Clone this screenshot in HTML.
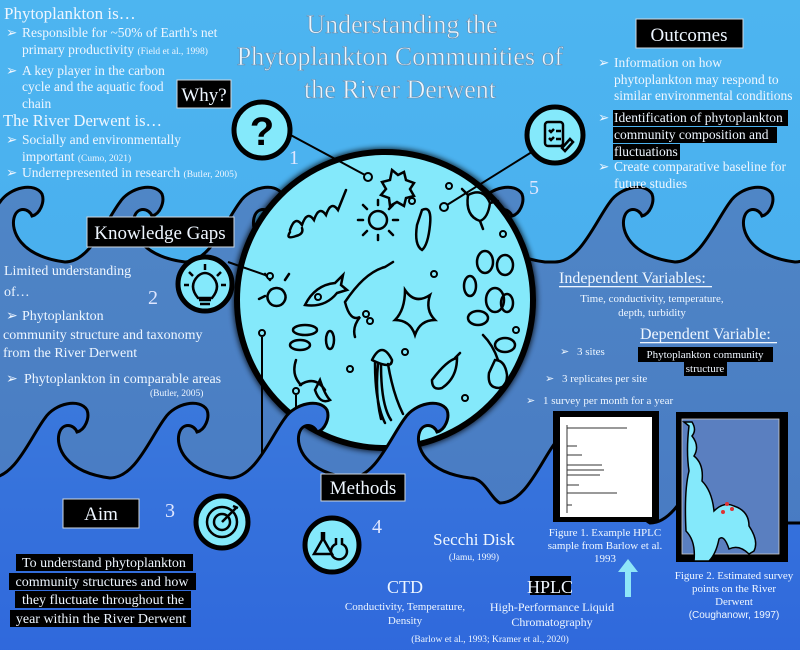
<!DOCTYPE html>
<html><head><meta charset="utf-8"><style>
html,body{margin:0;padding:0;width:800px;height:650px;overflow:hidden;background:#4cb2ee}
svg{display:block}
text{font-family:"Liberation Serif",serif}
.w{fill:#eef6ff}
.s{font-family:"Liberation Sans",sans-serif}
</style></head><body>
<svg width="800" height="650" viewBox="0 0 800 650" xmlns="http://www.w3.org/2000/svg">
<defs>
<linearGradient id="sky" x1="0" y1="0" x2="0" y2="1"><stop offset="0" stop-color="#4db5f0"/><stop offset="1" stop-color="#45a8ec"/></linearGradient>
<linearGradient id="b1" x1="0" y1="0" x2="0" y2="1"><stop offset="0" stop-color="#4f86c6"/><stop offset="1" stop-color="#4677c2"/></linearGradient>
<linearGradient id="b2" x1="0" y1="0" x2="0" y2="1"><stop offset="0" stop-color="#3a78dc"/><stop offset="1" stop-color="#2f68dc"/></linearGradient>
<filter id="gl" x="-20%" y="-20%" width="140%" height="140%"><feGaussianBlur stdDeviation="3"/></filter>
</defs>
<rect width="800" height="650" fill="url(#sky)"/>
<!-- band 1 -->
<path d="M-55,262 c25,0 40,-40 55,-60 c10,-15 35,-20 42,-8 c3,8 -2,20 -10,22 c-3,-8 -15,-10 -18,2 c-3,12 5,38 51,44 c25,0 40,-40 55,-60 c10,-15 35,-20 42,-8 c3,8 -2,20 -10,22 c-3,-8 -15,-10 -18,2 c-3,12 5,38 51,44 c25,0 40,-40 55,-60 c10,-15 35,-20 42,-8 c3,8 -2,20 -10,22 c-3,-8 -15,-10 -18,2 c-3,12 5,38 51,44 c25,0 40,-40 55,-60 c10,-15 35,-20 42,-8 c3,8 -2,20 -10,22 c-3,-8 -15,-10 -18,2 c-3,12 5,38 51,44 c25,0 40,-40 55,-60 c10,-15 35,-20 42,-8 c3,8 -2,20 -10,22 c-3,-8 -15,-10 -18,2 c-3,12 5,38 51,44 h10 c25,0 40,-40 55,-60 c10,-15 35,-20 42,-8 c3,8 -2,20 -10,22 c-3,-8 -15,-10 -18,2 c-3,12 5,38 51,44 c25,0 40,-40 55,-60 c10,-15 35,-20 42,-8 c3,8 -2,20 -10,22 c-3,-8 -15,-10 -18,2 c-3,12 5,38 51,44 c25,0 40,-40 55,-60 c10,-15 35,-20 42,-8 c3,8 -2,20 -10,22 c-3,-8 -15,-10 -18,2 c-3,12 5,38 51,44 L900,650 L-100,650 Z" fill="url(#b1)" stroke="#000" stroke-width="3"/>
<!-- main circle -->
<circle cx="385" cy="300" r="152" fill="#000" filter="url(#gl)" opacity="0.8"/>
<circle cx="385" cy="300" r="148" fill="#84e9fb" stroke="#000" stroke-width="6"/>
<g fill="none" stroke="#000" stroke-width="2.5" stroke-linecap="round">
<path d="M290,230 q5,-15 12,-5 q5,-15 12,-5 q5,-15 12,-5 q5,-15 12,-5 q4,-10 8,-20"/>
<path d="M290,232 q-5,8 6,4 q8,-2 6,-8"/>
<circle cx="378" cy="220" r="9"/><path d="M378,205v-5M378,235v5M363,220h-5M393,220h5M367,209l-4,-4M389,209l4,-4M367,231l-4,4M389,231l4,4"/>
<path d="M392,170 l6,5 l6,-3 l2,8 l8,3 l-4,6 l4,7 l-8,2 l-2,8 l-7,-4 l-7,4 l-1,-8 l-8,-3 l5,-6 l-4,-7 l8,-2 z"/>
<path d="M468,195 q15,-8 22,8 q-2,15 -10,18 q-15,-5 -12,-26"/><path d="M468,195l-6,-6M490,203l8,-2M480,221l3,8"/>
<path d="M305,305 q10,-20 30,-22 l8,-8 l-2,10 l6,5 l-10,3 q-12,15 -32,12 z"/>
<path d="M345,302 q20,-30 40,-35 l8,-5 M345,302 q5,20 15,15 q-8,10 -5,20"/>
<path d="M422,210 q10,-5 8,15 q-2,20 -8,25 q-8,-5 -5,-25 z"/>
<path d="M405,290 q10,15 25,5 q-5,15 5,25 q-15,0 -20,15 q-5,-15 -20,-15 q10,-10 10,-30 z"/>
<path d="M276,288 a9,9 0 1,0 1,0 M270,280 l-5,-6 M285,280 l4,-6 M265,296 l-6,3"/>
<ellipse cx="485" cy="262" rx="8" ry="11"/><ellipse cx="505" cy="265" rx="8" ry="10"/><ellipse cx="495" cy="300" rx="9" ry="12"/><ellipse cx="470" cy="286" rx="6" ry="10"/><ellipse cx="478" cy="318" rx="10" ry="7"/><ellipse cx="507" cy="303" rx="6" ry="9"/><ellipse cx="505" cy="345" rx="10" ry="7"/>
<ellipse cx="305" cy="330" rx="12" ry="5"/><ellipse cx="300" cy="345" rx="10" ry="5"/><ellipse cx="330" cy="340" rx="4" ry="9"/>
<path d="M372,360 q10,-20 20,0 q0,10 -20,0 M375,363 q0,40 10,60 M381,365 q0,40 10,55 M388,364 q5,30 15,50 M378,364 q-3,30 3,55"/>
<path d="M432,380 q15,-20 25,-22 q0,20 -15,30 q-10,3 -10,-8 z M455,358 l5,-5"/>
<path d="M495,360 q10,0 12,15 q0,12 -8,13 q-12,0 -10,-15 z M498,360 q-5,-15 -15,-25"/>
<path d="M300,385 q15,-10 25,5 M320,380 q5,15 10,20 q-10,5 -15,-10 z M296,360 q-5,15 5,25"/>
</g>
<g fill="none" stroke="#000" stroke-width="2"><circle cx="449" cy="186" r="3"/><circle cx="412" cy="201" r="3"/><circle cx="434" cy="274" r="3"/><circle cx="318" cy="297" r="3"/><circle cx="366" cy="314" r="3"/><circle cx="370" cy="321" r="3"/><circle cx="405" cy="352" r="3"/><circle cx="503" cy="234" r="3"/><circle cx="516" cy="330" r="3"/><circle cx="465" cy="398" r="3"/><circle cx="350" cy="369" r="3"/><circle cx="426" cy="420" r="3"/></g>
<!-- connectors -->
<g stroke="#000" stroke-width="2" fill="none">
<path d="M285,132 L365,175"/><circle cx="368" cy="177" r="4" fill="#84e9fb"/>
<path d="M228,262 L268,276"/><circle cx="270" cy="276" r="3" fill="#84e9fb"/>
<path d="M250,523 L262,523 L262,337"/><circle cx="262" cy="333" r="3" fill="#84e9fb"/>
<path d="M306,548 L296,548 L296,395"/><circle cx="296" cy="391" r="3" fill="#84e9fb"/>
<path d="M535,150 L447,205"/><circle cx="444" cy="207" r="4" fill="#84e9fb"/>
</g>
<!-- band 2 -->
<path d="M-10,478 c25,0 40,-40 55,-60 c10,-15 35,-20 42,-8 c3,8 -2,20 -10,22 c-3,-8 -15,-10 -18,2 c-3,12 5,38 51,44 c25,0 40,-40 55,-60 c10,-15 35,-20 42,-8 c3,8 -2,20 -10,22 c-3,-8 -15,-10 -18,2 c-3,12 5,38 51,44 c25,0 40,-40 55,-60 c10,-15 35,-20 42,-8 c3,8 -2,20 -10,22 c-3,-8 -15,-10 -18,2 c-3,12 5,38 51,44 c25,0 40,-40 55,-60 c10,-15 35,-20 42,-8 c3,8 -2,20 -10,22 c-3,-8 -15,-10 -18,2 c-3,12 5,38 51,44 c15,0 20,20 30,25 c25,0 40,-40 55,-60 c10,-15 35,-20 42,-8 c3,8 -2,20 -10,22 c-3,-8 -15,-10 -18,2 c-3,12 5,38 51,44 c15,0 20,15 30,20 c25,0 40,-40 55,-60 c10,-15 35,-20 42,-8 c3,8 -2,20 -10,22 c-3,-8 -15,-10 -18,2 c-3,12 5,38 51,44 L900,523 L900,660 L-10,660 Z" fill="url(#b2)" stroke="#000" stroke-width="3"/>
<!-- icon circles -->
<g stroke="#000" stroke-width="5" fill="#84e9fb">
<circle cx="262" cy="130" r="28"/><circle cx="205" cy="284" r="27"/><circle cx="222" cy="522" r="26"/><circle cx="332" cy="545" r="27"/><circle cx="555" cy="135" r="28"/>
</g>
<text x="262" y="145" font-size="40" font-weight="bold" text-anchor="middle" class="s" fill="#000">?</text>
<g fill="none" stroke="#000" stroke-width="2.5">
<path d="M198,298 q-10,-12 0,-22 q7,-6 14,0 q10,10 0,22 z M199,300h12M200,304h10"/><path d="M205,270v-6M193,276l-4,-4M217,276l4,-4M189,285h-5M221,285h5"/>
<circle cx="222" cy="522" r="15"/><circle cx="222" cy="522" r="8"/><path d="M222,522 l14,-14 M233,506l5,2"/>
<path d="M322,532 v8 l-8,14 h18 l-8,-14 v-8 M336,538 v6 a8,8 0 1,0 6,0 v-6"/>
<rect x="545" y="122" width="18" height="24" rx="3"/><path d="M549,130l2,2 3,-3M556,131h5M549,138l2,2 3,-3M556,139h5M562,148 l8,-9 3,3 -8,9z"/>
</g>
<!-- numbers -->
<g font-size="20" fill="#dfe6ff" style="font-family:'Liberation Sans',sans-serif">
<text x="289" y="164">1</text><text x="148" y="304">2</text><text x="165" y="517">3</text><text x="372" y="533">4</text><text x="529" y="194">5</text>
</g>
<!-- title -->
<g font-size="26" text-anchor="middle" fill="#eaf6ff" stroke="#6a8fb0" stroke-width="0.6">
<text x="402" y="33">Understanding the</text>
<text x="400" y="65">Phytoplankton Communities of</text>
<text x="400" y="98">the River Derwent</text>
</g>
<!-- left top -->
<g class="w" font-size="13.5">
<text x="4" y="19" font-size="17">Phytoplankton is…</text>
<text x="6" y="37">➢</text><text x="22" y="37">Responsible for ~50% of Earth's net</text>
<text x="22" y="54">primary productivity <tspan font-size="9.5">(Field et al., 1998)</tspan></text>
<text x="6" y="75">➢</text><text x="22" y="75">A key player in the carbon</text>
<text x="22" y="91">cycle and the aquatic food</text>
<text x="22" y="108">chain</text>
<text x="3" y="126" font-size="16.5">The River Derwent is…</text>
<text x="6" y="144">➢</text><text x="22" y="144">Socially and environmentally</text>
<text x="22" y="161">important <tspan font-size="9.5">(Cumo, 2021)</tspan></text>
<text x="6" y="177">➢</text><text x="22" y="177">Underrepresented in research <tspan font-size="9.5">(Butler, 2005)</tspan></text>
</g>
<!-- boxes -->
<g stroke="#cfd8e0" stroke-width="1" fill="#000">
<rect x="177" y="80" width="54" height="28"/><rect x="87" y="217" width="147" height="30"/><rect x="63" y="499" width="76" height="29"/><rect x="321" y="474" width="84" height="27"/><rect x="636" y="19" width="107" height="29"/>
</g>
<g class="w" font-size="19" text-anchor="middle">
<text x="204" y="101">Why?</text><text x="160" y="239">Knowledge Gaps</text><text x="101" y="520">Aim</text><text x="363" y="494">Methods</text><text x="689" y="41">Outcomes</text>
</g>
<!-- knowledge gaps text -->
<g class="w" font-size="14">
<text x="4" y="275">Limited understanding</text><text x="4" y="296">of…</text>
<text x="6" y="320">➢</text><text x="22" y="320">Phytoplankton</text>
<text x="3" y="339">community structure and taxonomy</text>
<text x="3" y="357">from the River Derwent</text>
<text x="6" y="383">➢</text><text x="24" y="383">Phytoplankton in comparable areas</text>
<text x="150" y="396" font-size="9.5">(Butler, 2005)</text>
</g>
<!-- aim text -->
<g fill="#000"><rect x="16" y="554" width="177" height="17"/><rect x="9" y="573" width="187" height="17"/><rect x="15" y="591" width="176" height="17"/><rect x="10" y="610" width="181" height="17"/></g>
<g class="w" font-size="14" text-anchor="middle">
<text x="104" y="567">To understand phytoplankton</text><text x="102" y="586">community structures and how</text><text x="103" y="604">they fluctuate throughout the</text><text x="101" y="623">year within the River Derwent</text>
</g>
<!-- methods -->
<g class="w" text-anchor="middle">
<text x="474" y="545" font-size="17">Secchi Disk</text>
<text x="474" y="560" font-size="9.5">(Jamu, 1999)</text>
<text x="405" y="593" font-size="18">CTD</text>
<text x="405" y="610" font-size="11">Conductivity, Temperature,</text>
<text x="405" y="624" font-size="11">Density</text>
<text x="490" y="642" font-size="9.5">(Barlow et al., 1993; Kramer et al., 2020)</text>
<text x="552" y="611" font-size="12">High-Performance Liquid</text>
<text x="552" y="626" font-size="12">Chromatography</text>
</g>
<rect x="530" y="576" width="41" height="19" fill="#000"/>
<text x="550" y="593" font-size="18" class="w" text-anchor="middle">HPLC</text>
<path d="M625,597 V572 h-7 l10,-13 l10,13 h-7 V597 z" fill="#8fe6f8"/>
<!-- outcomes -->
<g class="w" font-size="13.5">
<text x="598" y="67">➢</text><text x="614" y="67">Information on how</text>
<text x="614" y="84">phytoplankton may respond to</text>
<text x="614" y="100">similar environmental conditions</text>
<rect x="613" y="110" width="175" height="16" fill="#000"/><rect x="613" y="127" width="164" height="16" fill="#000"/><rect x="613" y="144" width="67" height="16" fill="#000"/>
<text x="598" y="122">➢</text><text x="614" y="122">Identification of phytoplankton</text>
<text x="614" y="139">community composition and</text>
<text x="614" y="156">fluctuations</text>
<text x="598" y="171">➢</text><text x="614" y="171">Create comparative baseline for</text>
<text x="614" y="188">future studies</text>
</g>
<!-- variables -->
<g class="w">
<text x="559" y="283" font-size="16">Independent Variables:</text>
<rect x="559" y="286" width="153" height="1.3"/>
<text x="652" y="302" font-size="11" text-anchor="middle">Time, conductivity, temperature,</text>
<text x="652" y="316" font-size="11" text-anchor="middle">depth, turbidity</text>
<text x="640" y="339" font-size="16">Dependent Variable:</text>
<rect x="640" y="342" width="137" height="1.3"/>
</g>
<rect x="638" y="347" width="135" height="15" fill="#000"/><rect x="684" y="362" width="43" height="14" fill="#000"/>
<g class="w" font-size="11">
<text x="705" y="358" text-anchor="middle">Phytoplankton community</text>
<text x="705" y="372" text-anchor="middle">structure</text>
<text x="560" y="355">➢</text><text x="577" y="355">3 sites</text>
<text x="545" y="382">➢</text><text x="562" y="382">3 replicates per site</text>
<text x="526" y="404">➢</text><text x="543" y="404">1 survey per month for a year</text>
</g>
<!-- figure 1 -->
<rect x="553" y="411" width="106" height="111" fill="#000"/>
<rect x="560" y="417" width="92" height="100" fill="#fff"/>
<g stroke="#333" stroke-width="1"><path d="M567,425v88M567,428h60M567,446h10M567,455h15M567,465h35M567,470h37M567,475h33M567,485h12M567,493h50M567,505h5"/></g>
<g class="w" font-size="11" text-anchor="middle">
<text x="605" y="536">Figure 1. Example HPLC</text><text x="605" y="549">sample from Barlow et al.</text><text x="605" y="562">1993</text>
</g>
<!-- figure 2 -->
<rect x="676" y="412" width="112" height="150" fill="#000"/>
<rect x="682" y="419" width="97" height="135" fill="#5a7fc0" stroke="#ccc" stroke-width="0.8"/>
<path d="M684,422 h8 q5,8 0,14 q8,10 2,20 q10,8 8,25 q10,10 12,30 q10,-10 20,-5 q15,5 15,20 q10,15 5,25 l-5,3 q-10,-10 -20,-5 q-5,-15 -10,-10 q-3,15 -10,22 h-15 q2,-20 -8,-30 q-2,-40 3,-60 q-3,-20 0,-45 z" fill="#84e9fb" stroke="#000" stroke-width="1.5"/>
<g fill="#d33"><circle cx="727" cy="504" r="2"/><circle cx="732" cy="509" r="2"/><circle cx="723" cy="512" r="2"/></g>
<g class="w" font-size="11" text-anchor="middle">
<text x="734" y="579">Figure 2. Estimated survey</text><text x="734" y="592">points on the River</text><text x="734" y="605">Derwent</text>
<text x="734" y="618" font-size="10" style="font-family:'Liberation Sans',sans-serif">(Coughanowr, 1997)</text>
</g>
</svg>
</body></html>
